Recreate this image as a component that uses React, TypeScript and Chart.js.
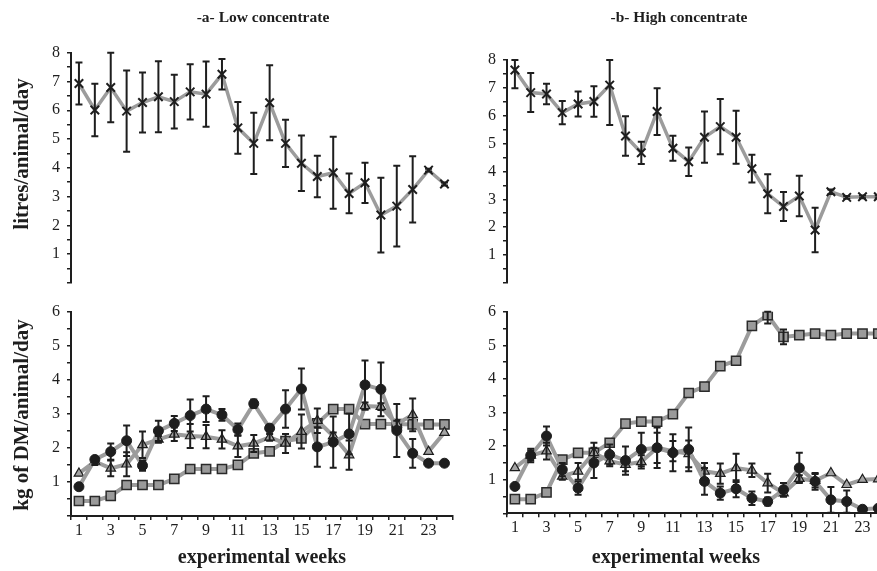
import React, { useEffect, useRef } from "react";
import { Chart, registerables } from "chart.js";

Chart.register(...registerables);

// ---------- data ----------
const weeks = ["1","2","3","4","5","6","7","8","9","10","11","12","13","14","15","16","17","18","19","20","21","22","23","24"];

// milk yield (litres/animal/day)
const milkLow = [6.93, 6.01, 6.79, 5.97, 6.27, 6.47, 6.30, 6.64, 6.56, 7.25, 5.39, 4.85, 6.26, 4.85, 4.16, 3.70, 3.83, 3.11, 3.48, 2.36, 2.67, 3.25, 3.92, 3.44];
const milkLowErr = [0.73, 0.91, 1.21, 1.41, 1.04, 1.23, 0.93, 0.96, 1.13, 0.53, 0.90, 1.06, 1.30, 0.82, 0.96, 0.72, 1.25, 0.69, 0.70, 1.30, 1.40, 1.15, 0.05, 0.05];
const milkHigh = [7.64, 6.83, 6.78, 6.11, 6.42, 6.51, 7.10, 5.27, 4.67, 6.15, 4.83, 4.35, 5.23, 5.61, 5.23, 4.10, 3.20, 2.74, 3.12, 1.90, 3.27, 3.07, 3.09, 3.09];
const milkHighErr = [0.65, 0.70, 0.37, 0.42, 0.45, 0.55, 1.43, 0.71, 0.40, 0.84, 0.45, 0.51, 0.92, 0.99, 0.95, 0.50, 0.70, 0.52, 0.73, 0.80, 0.08, 0.05, 0.05, 0.05];

// intake (kg of DM/animal/day) - low concentrate
const lowCircle = [0.86, 1.66, 1.89, 2.21, 1.48, 2.50, 2.72, 2.95, 3.14, 2.97, 2.54, 3.30, 2.58, 3.14, 3.73, 2.03, 2.17, 2.41, 3.85, 3.72, 2.51, 1.84, 1.55, 1.55];
const lowCircleErr = [0, 0.08, 0.24, 0.45, 0.15, 0.3, 0.22, 0.47, 0.38, 0.17, 0.18, 0.12, 0.1, 0.55, 0.6, 0.58, 0.75, 0.6, 0.72, 0.79, 0.78, 0.42, 0, 0];
const lowTriangle = [1.25, 1.60, 1.40, 1.52, 2.09, 2.25, 2.40, 2.35, 2.33, 2.25, 2.05, 2.13, 2.31, 2.13, 2.48, 2.80, 2.35, 1.79, 3.23, 3.21, 2.70, 2.97, 1.89, 2.45];
const lowTriangleErr = [0, 0.1, 0.23, 0.35, 0.39, 0.1, 0.2, 0.35, 0.34, 0.27, 0.32, 0.25, 0.1, 0.28, 0.5, 0.36, 0.1, 0.43, 0.1, 0.1, 0.1, 0.48, 0, 0];
const lowSquare = [0.44, 0.44, 0.59, 0.91, 0.91, 0.91, 1.09, 1.38, 1.38, 1.38, 1.50, 1.84, 1.90, 2.20, 2.28, 2.72, 3.14, 3.14, 2.70, 2.70, 2.70, 2.69, 2.69, 2.69];

// intake (kg of DM/animal/day) - high concentrate
const highCircle = [0.80, 1.72, 2.30, 1.30, 0.75, 1.50, 1.75, 1.57, 1.90, 1.95, 1.80, 1.90, 0.95, 0.60, 0.73, 0.45, 0.35, 0.70, 1.35, 0.95, 0.40, 0.35, 0.12, 0.15];
const highCircleErr = [0, 0.2, 0.28, 0.2, 0.2, 0.45, 0.3, 0.42, 0.5, 0.6, 0.55, 0.65, 0.4, 0.2, 0.25, 0.2, 0.12, 0.2, 0.45, 0.25, 0.38, 0.33, 0, 0];
const highTriangle = [1.35, 1.72, 1.85, 1.10, 1.25, 1.80, 1.55, 1.45, 1.53, 1.95, 1.85, 1.77, 1.25, 1.18, 1.35, 1.28, 0.90, 0.60, 1.03, 0.97, 1.20, 0.85, 1.00, 1.02];
const highTriangleErr = [0, 0.15, 0.25, 0.1, 0.25, 0.3, 0.15, 0.2, 0.2, 0.45, 0.3, 0.4, 0.25, 0.3, 0.42, 0.2, 0.28, 0.1, 0.1, 0.2, 0, 0, 0, 0];
const highSquare = [0.42, 0.42, 0.62, 1.60, 1.80, 1.80, 2.10, 2.67, 2.73, 2.73, 2.95, 3.58, 3.77, 4.38, 4.54, 5.58, 5.90, 5.25, 5.30, 5.35, 5.30, 5.35, 5.35, 5.35];
const highSquareErr = [0, 0, 0, 0, 0, 0, 0, 0, 0, 0, 0, 0, 0, 0, 0, 0, 0.25, 0.22, 0, 0, 0, 0, 0, 0];

// ---------- styles ----------
const SERIF = "'Liberation Serif', 'Times New Roman', serif";
const INK = "#1e1e1e";
const LINE_GRAY = "#9c9c9c";

const errorBarsPlugin = {
  id: "errorBars",
  afterDatasetsDraw(chart: any) {
    const ctx = chart.ctx;
    const yScale = chart.scales.y;
    chart.data.datasets.forEach((ds: any, i: number) => {
      if (!ds.errors) return;
      const meta = chart.getDatasetMeta(i);
      ctx.save();
      ctx.strokeStyle = INK;
      ctx.lineWidth = 2;
      meta.data.forEach((pt: any, j: number) => {
        const e = ds.errors[j];
        if (!e) return;
        const v = ds.data[j];
        const top = yScale.getPixelForValue(Math.min(v + e, yScale.max));
        const bot = yScale.getPixelForValue(Math.max(v - e, yScale.min));
        const x = pt.x;
        ctx.beginPath();
        ctx.moveTo(x, top);
        ctx.lineTo(x, bot);
        ctx.moveTo(x - 3.5, top);
        ctx.lineTo(x + 3.5, top);
        ctx.moveTo(x - 3.5, bot);
        ctx.lineTo(x + 3.5, bot);
        ctx.stroke();
      });
      ctx.restore();
    });
  },
};

type Area = { left: number; right: number; top: number; bottom: number };
const CW = 900;
const CH = 571;

function yAxis(max: number) {
  return {
    type: "linear",
    min: 0,
    max,
    afterFit: (s: any) => {
      s.width = 40;
      s.paddingTop = 0;
      s.paddingBottom = 0;
      s.paddingLeft = 0;
      s.paddingRight = 0;
    },
    ticks: {
      stepSize: 0.5,
      autoSkip: false,
      padding: 7,
      color: INK,
      font: { family: SERIF, size: 16 },
      callback: (v: any) => (Number.isInteger(v) && v > 0 ? String(v) : ""),
    },
    grid: {
      display: true,
      drawOnChartArea: false,
      drawTicks: true,
      tickLength: 4,
      color: INK,
      lineWidth: 1.5,
    },
    border: { display: true, color: INK, width: 2 },
  };
}

function xAxis(show: boolean) {
  if (!show) return { type: "category", display: false, offset: true };
  return {
    type: "category",
    offset: true,
    afterFit: (s: any) => {
      s.height = 40;
      s.paddingLeft = 0;
      s.paddingRight = 0;
    },
    ticks: {
      autoSkip: false,
      maxRotation: 0,
      minRotation: 0,
      padding: 1,
      color: INK,
      font: { family: SERIF, size: 16 },
      callback: (_v: any, idx: number) => (idx % 2 === 0 ? weeks[idx] : ""),
    },
    grid: {
      display: true,
      offset: true,
      drawOnChartArea: false,
      drawTicks: true,
      tickLength: 4,
      color: INK,
      lineWidth: 1.5,
    },
    border: { display: true, color: INK, width: 2 },
  };
}

function makeConfig(area: Area, yMax: number, showX: boolean, datasets: any[]) {
  return {
    type: "line",
    data: { labels: weeks, datasets },
    options: {
      animation: false,
      responsive: false,
      devicePixelRatio: 1,
      events: [],
      layout: {
        autoPadding: false,
        padding: {
          left: area.left - 40,
          right: CW - area.right,
          top: area.top,
          bottom: CH - area.bottom - (showX ? 40 : 0),
        },
      },
      plugins: { legend: { display: false }, tooltip: { enabled: false }, title: { display: false } },
      scales: { x: xAxis(showX), y: yAxis(yMax) },
    },
    plugins: [errorBarsPlugin],
  };
}

function milkSet(data: number[], errors: number[]) {
  return {
    data,
    errors,
    borderColor: LINE_GRAY,
    borderWidth: 3.5,
    tension: 0,
    pointStyle: "crossRot",
    pointRadius: 6,
    pointBorderColor: INK,
    pointBackgroundColor: INK,
    pointBorderWidth: 2,
  };
}

function circleSet(data: number[], errors: number[]) {
  return {
    data,
    errors,
    borderColor: LINE_GRAY,
    borderWidth: 4,
    tension: 0,
    pointStyle: "circle",
    pointRadius: 5,
    pointBorderColor: INK,
    pointBackgroundColor: INK,
    pointBorderWidth: 1,
  };
}

function triangleSet(data: number[], errors: number[]) {
  return {
    data,
    errors,
    borderColor: LINE_GRAY,
    borderWidth: 4,
    tension: 0,
    pointStyle: "triangle",
    pointRadius: 5.5,
    pointBorderColor: INK,
    pointBackgroundColor: "#a3a3a3",
    pointBorderWidth: 1.2,
  };
}

function squareSet(data: number[], errors: number[] | null) {
  return {
    data,
    errors,
    borderColor: LINE_GRAY,
    borderWidth: 4,
    tension: 0,
    pointStyle: "rect",
    pointRadius: 6.5,
    pointBorderColor: "#2a2a2a",
    pointBackgroundColor: "#9a9a9a",
    pointBorderWidth: 1.5,
  };
}

function Panel({ config }: { config: () => any }) {
  const ref = useRef<HTMLCanvasElement | null>(null);
  useEffect(() => {
    const chart = new Chart(ref.current as HTMLCanvasElement, config());
    return () => chart.destroy();
  }, []);
  return (
    <canvas
      ref={ref}
      width={CW}
      height={CH}
      style={{ position: "absolute", left: 0, top: 0, width: CW, height: CH }}
    />
  );
}

const textBase: React.CSSProperties = {
  position: "absolute",
  fontFamily: SERIF,
  fontWeight: "bold",
  color: INK,
  whiteSpace: "nowrap",
  lineHeight: 1,
};

function Label({ x, y, size, rotate, children }: { x: number; y: number; size: number; rotate?: boolean; children: any }) {
  return (
    <div
      style={{
        ...textBase,
        left: x,
        top: y,
        fontSize: size,
        transform: `translate(-50%, -50%)${rotate ? " rotate(-90deg)" : ""}`,
      }}
    >
      {children}
    </div>
  );
}

const areaTopLeft: Area = { left: 71, right: 452.4, top: 52.7, bottom: 283 };
const areaTopRight: Area = { left: 507, right: 886.2, top: 60, bottom: 282.9 };
const areaBottomLeft: Area = { left: 71, right: 452.4, top: 311.7, bottom: 516 };
const areaBottomRight: Area = { left: 507, right: 886.2, top: 311.7, bottom: 513.3 };

export default function App() {
  return (
    <div
      style={{
        position: "fixed",
        left: 0,
        top: 0,
        width: 877,
        height: 571,
        overflow: "hidden",
        background: "#ffffff",
      }}
    >
      <Panel config={() => makeConfig(areaTopLeft, 8, false, [milkSet(milkLow, milkLowErr)])} />
      <Panel config={() => makeConfig(areaTopRight, 8, false, [milkSet(milkHigh, milkHighErr)])} />
      <Panel
        config={() =>
          makeConfig(areaBottomLeft, 6, true, [
            circleSet(lowCircle, lowCircleErr),
            triangleSet(lowTriangle, lowTriangleErr),
            squareSet(lowSquare, null),
          ])
        }
      />
      <Panel
        config={() =>
          makeConfig(areaBottomRight, 6, true, [
            circleSet(highCircle, highCircleErr),
            triangleSet(highTriangle, highTriangleErr),
            squareSet(highSquare, highSquareErr),
          ])
        }
      />
      <Label x={263} y={17} size={15.5}>-a- Low concentrate</Label>
      <Label x={679} y={17} size={15.5}>-b- High concentrate</Label>
      <Label x={21} y={154} size={21} rotate>litres/animal/day</Label>
      <Label x={21} y={415} size={21} rotate>kg of DM/animal/day</Label>
      <Label x={262} y={556} size={20}>experimental weeks</Label>
      <Label x={676} y={556} size={20}>experimental weeks</Label>
    </div>
  );
}
